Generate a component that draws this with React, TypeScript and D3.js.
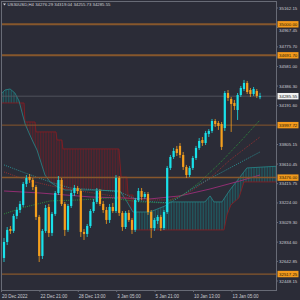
import * as d3 from 'd3';

// candles, H4, one per bar index (last bar = header OHLC)
const opens = [32677, 32836, 32965, 32946, 33095, 33154, 33204, 33413, 33482, 33453, 33383, 33085, 32697, 32946, 33184, 32926, 33115, 33323, 33453, 33214, 32956, 33194, 33323, 33373, 33343, 32936, 32916, 32995, 33144, 33234, 33343, 33214, 33154, 33055, 33184, 33144, 33472, 33125, 32985, 33125, 33055, 32956, 33254, 33343, 33284, 33313, 33134, 32975, 33045, 33085, 32975, 33134, 33572, 33681, 33761, 33791, 33701, 33582, 33502, 33572, 33671, 33771, 33850, 33820, 33910, 33940, 34039, 34019, 34009, 33969, 34317, 34258, 34218, 34148, 34297, 34357, 34417, 34347, 34307, 34337, 34276.29];
const highs = [32876, 32985, 32995, 33115, 33184, 33244, 33433, 33502, 33512, 33472, 33403, 33105, 32965, 33204, 33214, 33134, 33343, 33492, 33472, 33234, 33214, 33353, 33403, 33393, 33363, 32965, 33015, 33164, 33264, 33373, 33363, 33244, 33184, 33214, 33224, 33502, 33492, 33144, 33144, 33154, 33075, 33274, 33373, 33373, 33333, 33333, 33154, 33075, 33105, 33105, 33154, 33592, 33701, 33771, 33791, 33820, 33731, 33602, 33592, 33691, 33791, 33870, 33880, 33940, 33959, 34059, 34059, 34039, 34029, 34337, 34347, 34278, 34248, 34317, 34387, 34447, 34437, 34367, 34377, 34357, 34319.04];
const lows = [32637, 32806, 32916, 32926, 33065, 33125, 33184, 33383, 33423, 33353, 33055, 32637, 32667, 32926, 32886, 32896, 33095, 33303, 33194, 32896, 32936, 33174, 33294, 33313, 32886, 32856, 32886, 32975, 33125, 33214, 33194, 33125, 33015, 33025, 33125, 33125, 33095, 32946, 32965, 33035, 32916, 32936, 33234, 33254, 33264, 33105, 32876, 32946, 33015, 32946, 32956, 33115, 33552, 33661, 33691, 33671, 33552, 33472, 33482, 33552, 33651, 33751, 33791, 33800, 33880, 33920, 33979, 33950, 33751, 33940, 34238, 33930, 34148, 34049, 34278, 34337, 34307, 34278, 34288, 34268, 34255.73];
const closes = [32836, 32956, 32946, 33095, 33154, 33214, 33413, 33472, 33453, 33383, 33085, 32697, 32946, 33174, 32926, 33115, 33323, 33453, 33214, 32956, 33194, 33323, 33373, 33343, 32936, 32916, 32995, 33144, 33234, 33343, 33214, 33154, 33055, 33184, 33144, 33472, 33125, 32985, 33125, 33055, 32956, 33254, 33343, 33284, 33313, 33134, 32975, 33055, 33085, 32975, 33134, 33572, 33681, 33741, 33721, 33701, 33582, 33502, 33572, 33671, 33771, 33840, 33820, 33920, 33940, 34039, 34009, 33989, 33781, 34317, 34268, 34208, 34188, 34297, 34367, 34417, 34327, 34307, 34357, 34288, 34285.55];

// ichimoku cloud spans, vertices as [bar index, price]
const spanBIdx = [-2, 6.25, 6.56, 9.69, 10, 16.25, 16.56, 18.1, 18.4, 35.9, 36.6, 38.4, 38.75, 40.3, 40.6, 68.75, 69.7, 70.9, 73.4, 75, 87];
const spanBVal = [34218, 34218, 34029, 34029, 33930, 33930, 33850, 33850, 33761, 33761, 33482, 33482, 33303, 33303, 32956, 32956, 33105, 33204, 33274, 33433, 33433];
const spanAIdx = [-2, 0.3, 1.9, 3.4, 4.7, 5.6, 6.6, 7.8, 9.1, 10.3, 11.6, 12.8, 14.4, 16.25, 19.1, 26.9, 36.25, 38.1, 40.3, 45.6, 50.3, 51.9, 62.8, 64.4, 65.6, 68.1, 70.6, 73.75, 75.9, 87];
const spanAVal = [34268, 34347, 34357, 34317, 34238, 34128, 34009, 33920, 33830, 33751, 33622, 33502, 33433, 33393, 33353, 33353, 33343, 33254, 33134, 33134, 33194, 33234, 33234, 33294, 33234, 33234, 33353, 33482, 33572, 33592];

// moving averages, vertices as [bar index, price]
const maMagIdx = [0, 11.25, 26.9, 45.6, 55, 64.4, 73.75, 80];
const maMagVal = [33343, 33323, 33284, 33264, 33294, 33363, 33443, 33502];
const maGreenIdx = [0, 6.6, 14.4, 23.75, 33.1, 42.5, 50.3, 55.9, 61.25, 67.5, 73.75, 80];
const maGreenVal = [33115, 33184, 33244, 33254, 33274, 33234, 33224, 33303, 33433, 33622, 33830, 34049];
const maRedIdx = [0, 6.9, 17.5, 30, 42.5, 51.9, 58.1, 64.4, 70.6, 80];
const maRedVal = [33532, 33453, 33373, 33313, 33254, 33254, 33333, 33472, 33651, 33880];
const maTealIdx = [0, 6.6, 14.4, 20.6, 30, 36.25, 42.5, 51.9, 61.25, 70.6, 80];
const maTealVal = [33602, 33522, 33433, 33373, 33353, 33333, 33244, 33224, 33413, 33572, 33731];

const priceTicks = [35162.15, 34967.45, 34775.70, 34581.00, 34386.30, 34191.60, 33805.15, 33610.45, 33415.75, 33224.00, 33029.30, 32834.60, 32642.85, 32448.15];
const levels = [35000.00, 34691.70, 33997.72, 33476.00, 32517.25];
const levelWidths = [2, 2, 1, 1.5, 1.2];
const timeLabels = ['20 Dec 2022', '22 Dec 21:00', '28 Dec 13:00', '3 Jan 05:00', '5 Jan 21:00', '10 Jan 13:00', '13 Jan 05:00'];
const timeBars = [0, 12, 24, 36, 48, 60, 72];
const header = 'US30USD,H4  34276.29 34319.04 34255.73 34285.55';
const lastPrice = 34285.55;

const BG = '#2b2c37';
const GRID = '#686b76';
const CYAN = '#19e2ea';
const ORANGE = '#f5a01e';
const LEVEL = '#87572c';
const FONT = 'Liberation Sans, Arial, sans-serif';

export default function App() {
  const right = 276;
  const bottom = 290;
  const x = d3.scaleLinear().domain([0, 80]).range([4, 260]);
  const y = d3.scaleLinear().domain([32448.15, 35162.15]).range([281, 8]);

  const path = (idx: number[], val: number[]) =>
    d3.line<number>().x(k => x(idx[k])).y(k => y(val[k]))(d3.range(idx.length)) || '';
  const below = (idx: number[], val: number[]) =>
    d3.area<number>().x(k => x(idx[k])).y0(bottom).y1(k => y(val[k]))(d3.range(idx.length)) || '';
  const above = (idx: number[], val: number[]) =>
    d3.area<number>().x(k => x(idx[k])).y0(0).y1(k => y(val[k]))(d3.range(idx.length)) || '';

  const mas = [
    { idx: maMagIdx, val: maMagVal, color: '#9c2e78', dash: '' },
    { idx: maGreenIdx, val: maGreenVal, color: '#2f9a3c', dash: '1 1.2' },
    { idx: maRedIdx, val: maRedVal, color: '#a23030', dash: '1 1.2' },
    { idx: maTealIdx, val: maTealVal, color: '#2a9a9c', dash: '1 1.2' },
  ];

  // tick label hidden behind the 35000 level box in the reference; nudged just below it
  const tickY = (v: number) => (v === 34967.45 ? y(v) + 2.4 : y(v));

  return (
    <svg width={300} height={300} style={{ position: 'fixed', left: 0, top: 0, background: BG }}
      fontFamily={FONT}>
      <defs>
        <clipPath id="plot"><rect x={1} y={1} width={right - 1} height={bottom - 1} /></clipPath>
        <clipPath id="aboveA"><path d={above(spanAIdx, spanAVal)} /></clipPath>
        <clipPath id="aboveB"><path d={above(spanBIdx, spanBVal)} /></clipPath>
        <pattern id="hatchRed" width={1.6} height={4} patternUnits="userSpaceOnUse">
          <rect x={0} y={0} width={0.6} height={4} fill="#6e1c26" />
        </pattern>
        <pattern id="hatchTeal" width={1.6} height={4} patternUnits="userSpaceOnUse">
          <rect x={0} y={0} width={0.6} height={4} fill="#1c6a6e" />
        </pattern>
      </defs>
      <rect x={0} y={0} width={300} height={300} fill={BG} />

      <g clipPath="url(#plot)">
        <g clipPath="url(#aboveA)">
          <path d={below(spanBIdx, spanBVal)} fill="url(#hatchRed)" />
        </g>
        <g clipPath="url(#aboveB)">
          <path d={below(spanAIdx, spanAVal)} fill="url(#hatchTeal)" />
        </g>
        <path d={path(spanBIdx, spanBVal)} fill="none" stroke="#861d22" strokeWidth={0.9} />
        <path d={path(spanAIdx, spanAVal)} fill="none" stroke="#277f82" strokeWidth={0.9} />

        {mas.map((m, k) => (
          <path key={k} d={path(m.idx, m.val)} fill="none" stroke={m.color} strokeWidth={0.9}
            strokeDasharray={m.dash || undefined} />
        ))}

        <line x1={1} x2={right} y1={y(lastPrice)} y2={y(lastPrice)} stroke="#5a5c66" strokeWidth={0.8} />
        {levels.map((v, k) => (
          <line key={k} x1={1} x2={right} y1={y(v)} y2={y(v)} stroke={LEVEL} strokeWidth={levelWidths[k]} />
        ))}

        {closes.map((c, i) => {
          const o = opens[i];
          const col = c >= o ? CYAN : ORANGE;
          const cx = x(i);
          const top = y(Math.max(o, c));
          const h = Math.max(1, y(Math.min(o, c)) - top);
          return (
            <g key={i}>
              <line x1={cx} x2={cx} y1={y(highs[i])} y2={y(lows[i])} stroke={col} strokeWidth={0.8} />
              <rect x={cx - 1.1} y={top} width={2.2} height={h} fill={col} />
            </g>
          );
        })}
      </g>

      {/* frame and axes */}
      <rect x={1} y={1} width={right - 1} height={bottom - 1} fill="none" stroke={GRID} strokeWidth={1} shapeRendering="crispEdges" />

      {priceTicks.map((v, k) => (
        <g key={k}>
          <line x1={right} x2={right + 2} y1={y(v)} y2={y(v)} stroke={GRID} />
          <text x={279} y={tickY(v)} dy="0.35em" fontSize={4.4} fill="#c9cad0">{v.toFixed(2)}</text>
        </g>
      ))}

      {levels.map((v, k) => (
        <g key={k}>
          <rect x={277.5} y={y(v) - 3.2} width={21} height={6.4} fill="#f39a1c" />
          <text x={279} y={y(v)} dy="0.35em" fontSize={4.4} fill="#2a1a08">{v.toFixed(2)}</text>
        </g>
      ))}
      <rect x={277.5} y={y(lastPrice) - 3.2} width={21} height={6.4} fill="#f2f2f2" />
      <text x={279} y={y(lastPrice)} dy="0.35em" fontSize={4.4} fill="#1c1c24">{lastPrice.toFixed(2)}</text>

      {timeLabels.map((t, k) => {
        const tx = x(timeBars[k]) - 2.5;
        return (
          <g key={k}>
            <line x1={tx} x2={tx} y1={bottom} y2={bottom + 2} stroke={GRID} />
            <text x={tx + 0.5} y={297.6} fontSize={4.5} fill="#c9cad0">{t}</text>
          </g>
        );
      })}

      <path d="M3,3.6 L6,3.6 L4.5,5.6 Z" fill="#d0d0d6" />
      <text x={7.5} y={5.6} fontSize={4.3} fill="#d0d1d6">{header}</text>
    </svg>
  );
}
